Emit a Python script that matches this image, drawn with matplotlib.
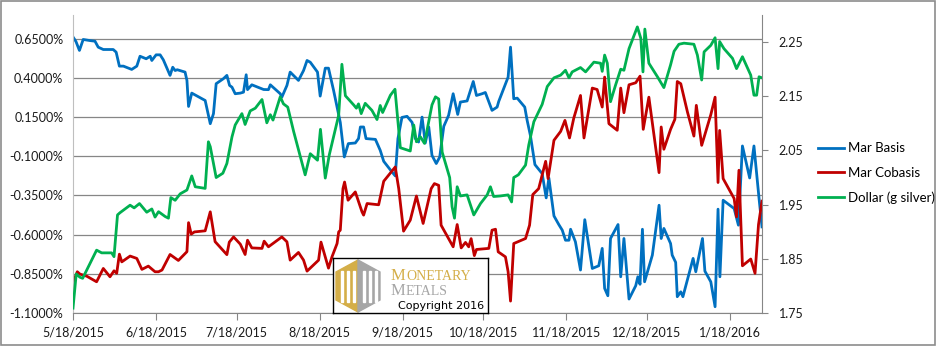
import matplotlib
matplotlib.use("Agg")
import matplotlib.pyplot as plt
from matplotlib.patches import Rectangle, Polygon
import pandas as pd

plt.rcParams['font.family'] = ['Lato', 'DejaVu Sans']

# days are counted from the first date on the x axis
START = pd.Timestamp('2015-05-18')
END_DAY = 257

tick_dates = ['2015-05-18', '2015-06-18', '2015-07-18', '2015-08-18', '2015-09-18',
              '2015-10-18', '2015-11-18', '2015-12-18', '2016-01-18']

# Mar Basis (%), left axis
basis_days = [0, 1.1, 2.4, 3.8, 6.3, 8.2, 9.4, 11.3, 15.0, 16.1, 17.3, 18.8, 21.9, 23.8, 25.0,
              27.3, 28.8, 29.4, 31.0, 32.5, 33.7, 36.2, 37.2, 38.1, 38.9, 41.8, 42.5, 43.1, 44.3,
              47.4, 49.3, 51.2, 52.4, 53.4, 56.1, 57.4, 58.4, 59.3, 60.5, 62.4, 63.6, 64.6, 65.1,
              66.7, 71.1, 72.9, 73.6, 77.3, 77.9, 79.8, 81.0, 84.1, 86.0, 87.3, 88.5, 91.2, 92.2,
              94.1, 95.3, 97.2, 99.7, 101.2, 102.7, 105.3, 106.5, 107.2, 108.4, 109.3, 112.8,
              114.6, 115.9, 119.0, 120.2, 121.2, 122.7, 124.6, 126.5, 127.7, 128.9, 130.2, 131.4,
              132.7, 133.9, 135.5, 136.8, 138.3, 140.1, 141.8, 143.5, 144.5, 147.0, 149.3, 150.5,
              152.6, 153.8, 156.3, 158.2, 158.8, 162.3, 163.2, 164.4, 165.7, 168.5, 169.4, 170.6,
              172.3, 175.0, 176.5, 177.5, 179.4, 181.2, 182.5, 183.7, 185.0, 185.6, 187.4, 189.3,
              190.9, 193.7, 196.1, 197.4, 198.3, 199.5, 200.5, 203.3, 204.3, 205.5, 207.4, 209.9,
              210.7, 211.5, 212.4, 213.2, 216.1, 218.6, 219.4, 220.4, 222.9, 223.5, 224.8, 225.4,
              226.7, 227.5, 229.8, 231.3, 232.3, 234.8, 235.7, 237.9, 239.5, 240.6, 241.3, 242.5,
              246.6, 248.2, 249.7, 252.4, 254.0, 255.9, 257.0]
basis_vals = [0.660, 0.631, 0.574, 0.644, 0.637, 0.633, 0.595, 0.580, 0.580, 0.563, 0.474, 0.474,
              0.453, 0.474, 0.537, 0.521, 0.537, 0.510, 0.546, 0.546, 0.514, 0.415, 0.467, 0.446,
              0.451, 0.436, 0.383, 0.217, 0.302, 0.273, 0.255, 0.107, 0.171, 0.362, 0.394, 0.415,
              0.351, 0.340, 0.298, 0.302, 0.308, 0.419, 0.324, 0.355, 0.325, 0.324, 0.355, 0.298,
              0.276, 0.351, 0.436, 0.383, 0.446, 0.510, 0.499, 0.436, 0.283, 0.461, 0.461, 0.319,
              0.115, -0.105, -0.020, -0.016, 0.012, 0.086, 0.086, 0.012, 0.007, -0.063, -0.133,
              -0.201, -0.226, 0.012, 0.147, 0.154, 0.115, 0.012, -0.010, 0.149, -0.016, 0.086,
              -0.095, -0.147, -0.105, 0.090, 0.160, 0.298, 0.166, 0.245, 0.252, 0.376, 0.287,
              0.298, 0.306, 0.192, 0.213, 0.249, 0.404, 0.595, 0.266, 0.270, 0.213, 0.128, 0.033,
              -0.154, -0.211, -0.366, -0.239, -0.481, -0.536, -0.572, -0.636, -0.636, -0.566,
              -0.646, -0.826, -0.505, -0.816, -0.799, -0.688, -0.943, -0.990, -0.625, -0.536,
              -0.869, -0.625, -1.011, -0.926, -0.869, -0.917, -0.566, -0.901, -0.731, -0.413,
              -0.625, -0.561, -0.657, -0.731, -0.777, -0.996, -0.965, -0.996, -0.847, -0.752,
              -0.837, -0.625, -0.833, -0.901, -1.060, -0.438, -0.869, -0.381, -0.434, -0.540,
              -0.035, -0.239, -0.035, -0.370, -0.551]

# Mar Cobasis (%), left axis
cobasis_days = [0, 1.6, 2.6, 5.1, 8.8, 11.3, 13.8, 15.3, 16.3, 17.3, 18.2, 21.3, 23.8, 25.7,
                28.1, 30.6, 31.9, 33.2, 36.2, 39.3, 42.5, 43.1, 44.1, 45.3, 49.3, 51.2, 53.0,
                57.4, 58.3, 59.9, 62.4, 64.2, 65.1, 66.7, 70.5, 71.3, 72.9, 77.9, 79.8, 81.0,
                84.1, 86.0, 87.3, 91.6, 92.5, 94.1, 95.3, 96.6, 98.5, 99.1, 99.7, 100.7, 101.3,
                102.6, 105.3, 107.8, 108.4, 109.7, 114.0, 115.9, 120.2, 121.5, 123.3, 125.8,
                128.1, 130.6, 133.6, 134.8, 136.4, 137.3, 140.1, 141.8, 143.3, 144.8, 146.4,
                147.6, 148.5, 149.7, 150.5, 155.1, 156.3, 157.6, 158.6, 161.3, 162.3, 163.2,
                164.4, 168.8, 170.3, 171.5, 173.7, 176.3, 177.2, 179.4, 181.9, 183.5, 185.2,
                186.8, 189.3, 190.6, 193.7, 195.5, 197.4, 198.3, 199.9, 203.0, 204.3, 205.5,
                207.4, 209.9, 211.5, 212.7, 214.8, 218.6, 219.4, 220.4, 222.9, 224.5, 225.4,
                226.7, 229.2, 231.6, 232.5, 234.5, 237.9, 239.5, 240.6, 241.2, 242.5, 246.6,
                247.5, 248.4, 249.7, 252.8, 254.4, 255.7, 257.0]
cobasis_vals = [-0.907, -0.837, -0.852, -0.865, -0.901, -0.816, -0.869, -0.831, -0.847, -0.725,
                -0.774, -0.737, -0.752, -0.822, -0.801, -0.837, -0.837, -0.826, -0.727, -0.765,
                -0.709, -0.524, -0.597, -0.583, -0.576, -0.455, -0.645, -0.728, -0.648, -0.615,
                -0.661, -0.727, -0.636, -0.685, -0.688, -0.642, -0.678, -0.615, -0.646, -0.763,
                -0.714, -0.763, -0.833, -0.763, -0.648, -0.742, -0.814, -0.742, -0.657, -0.583,
                -0.572, -0.307, -0.265, -0.381, -0.328, -0.455, -0.476, -0.402, -0.410, -0.260,
                -0.169, -0.307, -0.578, -0.508, -0.354, -0.529, -0.307, -0.275, -0.286, -0.540,
                -0.625, -0.678, -0.536, -0.685, -0.650, -0.678, -0.626, -0.734, -0.695, -0.688,
                -0.572, -0.566, -0.710, -0.742, -0.837, -1.024, -0.657, -0.625, -0.540, -0.345,
                -0.307, -0.133, -0.243, 0.001, 0.058, 0.128, 0.016, 0.143, 0.287, 0.016, 0.334,
                0.325, 0.213, 0.404, 0.107, 0.065, 0.334, 0.177, 0.355, 0.368, 0.410, 0.071,
                0.276, -0.205, 0.086, -0.056, 0.071, 0.135, 0.376, 0.362, 0.181, 0.028, 0.224,
                -0.031, 0.164, 0.276, -0.268, 0.064, -0.243, -0.370, -0.487, -0.190, -0.799,
                -0.756, -0.847, -0.536, -0.387]

# Dollar (g silver), right axis
dollar_days = [0, 1.2, 2.6, 3.6, 8.8, 10.7, 14.4, 15.3, 16.6, 17.5, 21.3, 22.8, 24.8, 27.5,
               29.4, 30.6, 31.9, 34.4, 35.6, 36.5, 38.1, 40.0, 42.5, 44.3, 45.6, 49.3, 50.5,
               51.2, 53.4, 55.9, 57.4, 59.3, 60.5, 63.0, 64.2, 66.1, 68.0, 70.5, 72.3, 73.6,
               74.6, 77.3, 78.5, 80.1, 82.3, 86.6, 88.5, 91.2, 92.3, 94.1, 95.6, 99.1, 100.3,
               101.6, 104.7, 105.7, 106.5, 107.5, 109.0, 111.5, 113.4, 114.6, 115.5, 118.4,
               120.1, 122.1, 125.8, 127.1, 128.1, 129.6, 131.1, 132.7, 133.9, 135.2, 136.4,
               137.7, 140.5, 141.4, 142.3, 143.3, 144.5, 147.0, 149.5, 152.0, 154.5, 155.7,
               156.9, 159.4, 162.3, 163.6, 164.4, 166.1, 168.8, 170.0, 171.9, 175.0, 176.9,
               179.4, 181.9, 183.7, 185.0, 186.2, 189.3, 191.2, 194.3, 196.8, 197.4, 198.3,
               199.3, 200.5, 202.4, 204.3, 205.5, 207.4, 210.5, 211.8, 212.6, 213.3, 214.8,
               218.0, 220.4, 222.9, 224.2, 226.0, 227.9, 231.6, 232.9, 234.5, 235.4, 237.9,
               239.5, 240.6, 241.2, 242.8, 246.0, 247.5, 249.7, 252.8, 254.0, 255.0, 255.9, 257.0]
dollar_vals = [1.759, 1.822, 1.816, 1.814, 1.866, 1.861, 1.861, 1.854, 1.931, 1.935, 1.949, 1.944,
               1.952, 1.936, 1.942, 1.927, 1.937, 1.928, 1.925, 1.963, 1.958, 1.970, 1.977, 2.003,
               1.983, 1.980, 2.066, 2.057, 2.000, 2.008, 2.026, 2.075, 2.097, 2.118, 2.098, 2.123,
               2.128, 2.144, 2.101, 2.116, 2.106, 2.149, 2.136, 2.130, 2.085, 2.005, 2.044, 2.032,
               2.089, 1.999, 2.042, 2.115, 2.209, 2.151, 2.134, 2.128, 2.136, 2.118, 2.137, 2.124,
               2.107, 2.133, 2.120, 2.152, 2.163, 2.055, 2.049, 2.097, 2.066, 2.075, 2.063, 2.103,
               2.134, 2.149, 2.145, 2.047, 2.000, 1.946, 1.925, 1.983, 1.966, 1.968, 1.931, 1.952,
               1.968, 1.983, 1.965, 1.966, 1.968, 1.955, 2.000, 2.005, 2.023, 2.060, 2.103, 2.135,
               2.168, 2.184, 2.189, 2.198, 2.184, 2.195, 2.203, 2.195, 2.213, 2.211, 2.196, 2.226,
               2.211, 2.140, 2.171, 2.200, 2.198, 2.238, 2.278, 2.257, 2.195, 2.274, 2.211, 2.186,
               2.166, 2.208, 2.233, 2.246, 2.248, 2.246, 2.226, 2.180, 2.232, 2.244, 2.258, 2.201,
               2.251, 2.238, 2.220, 2.201, 2.223, 2.189, 2.152, 2.152, 2.186, 2.184]

left_ticks = [0.65, 0.40, 0.15, -0.10, -0.35, -0.60, -0.85, -1.10]
right_ticks = [1.75, 1.85, 1.95, 2.05, 2.15, 2.25]


def to_dates(days):
    return START + pd.to_timedelta(days, unit='D')


BLUE = '#0070C0'
RED = '#C00000'
GREEN = '#00B050'
GRID = '#868686'
TXT = '#1a1a1a'
GOLD = '#D4AE48'
SILVER = '#A6A6A6'

fig = plt.figure(figsize=(9.36, 3.46), dpi=100)
ax = fig.add_axes([73 / 936, 33 / 346, 689 / 936, 298 / 346])
ax2 = ax.twinx()

l1, = ax.plot(to_dates(basis_days), basis_vals, color=BLUE, lw=2.0, label='Mar Basis')
l2, = ax.plot(to_dates(cobasis_days), cobasis_vals, color=RED, lw=2.0, label='Mar Cobasis')
l3, = ax2.plot(to_dates(dollar_days), dollar_vals, color=GREEN, lw=2.0, label='Dollar (g silver)')

ax.set_xlim(START, START + pd.Timedelta(days=END_DAY))
ax.set_ylim(-1.1, 0.80)
ax2.set_ylim(1.75, 2.30)

# horizontal grid at the left axis ticks
ax.set_yticks(left_ticks)
ax.set_yticklabels([f'{v:.4f}%' for v in left_ticks])
for v in left_ticks:
    ax.axhline(v, color=GRID, lw=0.9, zorder=0)

ax2.set_yticks(right_ticks)
ax2.set_yticklabels([f'{v:.2f}' for v in right_ticks])

xt = pd.to_datetime(tick_dates)
ax.set_xticks(xt)
ax.set_xticklabels([f'{d.month}/{d.day}/{d.year}' for d in xt])

ax.tick_params(axis='y', length=0, pad=7, labelsize=9, labelcolor=TXT)
ax.tick_params(axis='x', length=5, color=GRID, pad=5, labelsize=9, labelcolor=TXT)
ax2.tick_params(axis='y', length=4, color=GRID, pad=8, labelsize=9, labelcolor=TXT)

for a in (ax, ax2):
    a.spines['top'].set_visible(False)
ax.spines['right'].set_visible(False)
ax.spines['left'].set_color('#BFBFBF')
ax.spines['bottom'].set_color(GRID)
ax2.spines['left'].set_visible(False)
ax2.spines['bottom'].set_visible(False)
ax2.spines['right'].set_color(GRID)

fig.legend(handles=[l1, l2, l3], loc='center left', bbox_to_anchor=(806 / 936, 173 / 346),
           frameon=False, fontsize=9.5, handlelength=2.0, handletextpad=0.3,
           labelspacing=0.95)

# watermark box, drawn in its own little pixel-sized axes
lg = fig.add_axes([333 / 936, 33 / 346, 155 / 936, 55 / 346])
lg.set_xlim(0, 155)
lg.set_ylim(0, 55)
lg.set_xticks([])
lg.set_yticks([])
lg.set_facecolor('white')
for s in lg.spines.values():
    s.set_color('black')
    s.set_linewidth(1.0)
lg.add_patch(Polygon([(25, 53), (3, 41), (3, 13), (25, 1)], closed=True, color=GOLD))
lg.add_patch(Polygon([(25, 53), (47, 41), (47, 13), (25, 1)], closed=True, color=SILVER))
for x0 in (8, 14, 20, 30, 36, 42):
    lg.add_patch(Rectangle((x0, 11), 2, 31, color='white'))

serif = 'Liberation Serif'
lg.text(58, 33, 'M', fontsize=12, family=serif, color=GOLD, va='baseline')
lg.text(73, 33, 'ONETARY', fontsize=10, family=serif, color=GOLD, va='baseline')
lg.text(58, 18, 'M', fontsize=12, family=serif, color=SILVER, va='baseline')
lg.text(73, 18, 'ETALS', fontsize=10, family=serif, color=SILVER, va='baseline')
lg.text(151, 4, 'Copyright 2016', fontsize=8, family='DejaVu Sans', color='black',
        ha='right', va='baseline')

fig.patches.append(Rectangle((0.001, 0.002), 0.998, 0.996, transform=fig.transFigure,
                             fill=False, edgecolor='#8c8c8c', lw=1.2))

fig.savefig('out.png', dpi=100)
